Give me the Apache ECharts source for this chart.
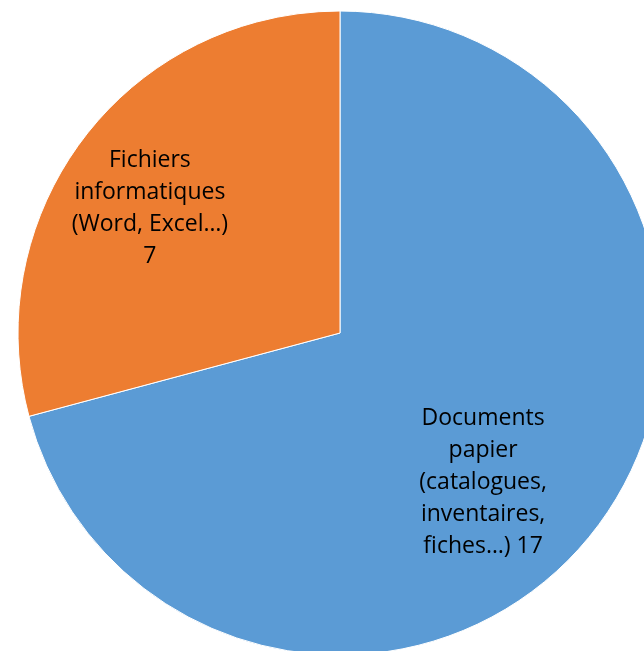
<!DOCTYPE html>
<html>
<head>
<meta charset="utf-8">
<script src="https://cdn.jsdelivr.net/npm/echarts@6/dist/echarts.min.js"></script>
<style>html,body{margin:0;padding:0;background:#fff;}#c{width:644px;height:651px;}</style>
</head>
<body>
<div id="c"></div>
<script>
const categories = ["Documents\npapier\n(catalogues,\ninventaires,\nfiches…)", "Fichiers\ninformatiques\n(Word, Excel…)"];
const values = [17, 7];
const colors = ["#5B9BD5", "#ED7D31"];
const labelFormats = ["{b} {c}", "{b}\n{c}"];
const labelOffsets = [[13, 50], [-60, -25]];

const chart = echarts.init(document.getElementById('c'), null, {renderer: 'canvas'});
chart.setOption({
  animation: false,
  series: [{
    type: 'pie',
    center: [340, 333],
    radius: [0, 322],
    startAngle: 90,
    clockwise: true,
    itemStyle: {borderColor: '#ffffff', borderWidth: 1},
    labelLine: {show: false},
    data: categories.map((n, i) => ({
      name: n,
      value: values[i],
      itemStyle: {color: colors[i]},
      label: {
        show: true,
        position: 'inside',
        formatter: labelFormats[i],
        offset: labelOffsets[i],
        color: '#000',
        fontFamily: 'Open Sans',
        fontSize: 23,
        lineHeight: 32,
        align: 'center'
      }
    }))
  }]
});
</script>
</body>
</html>
